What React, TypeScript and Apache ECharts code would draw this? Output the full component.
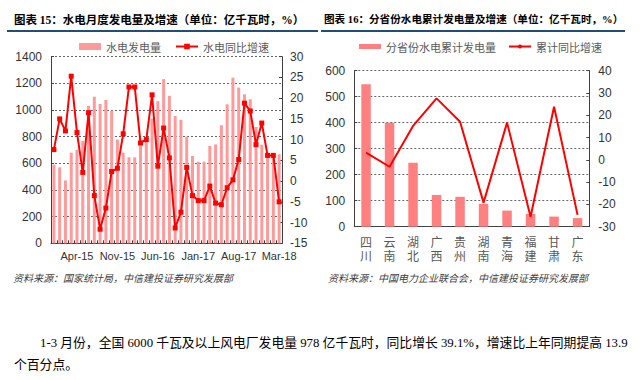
import React, { useEffect, useRef } from "react";
import * as echarts from "echarts";

const months = [
  "Dec-14", "Jan-15", "Feb-15", "Mar-15", "Apr-15", "May-15", "Jun-15", "Jul-15", "Aug-15", "Sep-15",
  "Oct-15", "Nov-15", "Dec-15", "Jan-16", "Feb-16", "Mar-16", "Apr-16", "May-16", "Jun-16", "Jul-16",
  "Aug-16", "Sep-16", "Oct-16", "Nov-16", "Dec-16", "Jan-17", "Feb-17", "Mar-17", "Apr-17", "May-17",
  "Jun-17", "Jul-17", "Aug-17", "Sep-17", "Oct-17", "Nov-17", "Dec-17", "Jan-18", "Feb-18", "Mar-18",
];
const hydroOutput = [
  590, 570, 472, 680, 702, 768, 1031, 1100, 1045, 1075,
  995, 778, 680, 645, 645, 745, 770, 937, 1066, 1232,
  1106, 955, 925, 800, 655, 612, 612, 730, 742, 886,
  1043, 1243, 1168, 1118, 1081, 873, 740, 650, 650, 668,
];
const hydroGrowth = [
  7.6, 15.0, 12.1, 25.3, 11.7, 2.1, 16.5, -3.5, -11.6, -6.5,
  2.3, 3.1, 11.4, 22.7, 22.7, 9.2, 10.0, 20.8, 3.6, 12.8,
  5.6, -11.3, -7.5, 3.3, -3.5, -4.7, -4.7, -1.2, -5.3, -5.7,
  -1.6, 0.3, 5.2, 18.8, 16.9, 8.8, 14.0, 6.2, 6.2, -5.0,
];

const provinces = ["四川", "云南", "湖北", "广西", "贵州", "湖南", "青海", "福建", "甘肃", "广东"];
const provOutput = [548, 400, 246, 122, 115, 88, 62, 49, 39, 33];
const provGrowth = [3.2, -3.1, 15.2, 27.6, 17.1, -19.2, 16.7, -25.5, 23.8, -24.7];

const leftTitle = "图表 15：水电月度发电量及增速（单位：亿千瓦时，%）";
const rightTitle = "图表 16：分省份水电累计发电量及增速（单位：亿千瓦时，%）";
const leftSource = "资料来源：国家统计局，中信建投证券研究发展部";
const rightSource = "资料来源：中国电力企业联合会，中信建投证券研究发展部";
const para1 = "1-3 月份，全国 6000 千瓦及以上风电厂发电量 978 亿千瓦时，同比增长 39.1%，增速比上年同期提高 13.9";
const para2 = "个百分点。";

const NUM = "'Liberation Sans', Arial, sans-serif";
const CJK = "'Noto Sans CJK SC', sans-serif";
const SERIF = "'Liberation Serif', 'Noto Sans CJK SC', serif";

export default function App() {
  const ref = useRef<HTMLDivElement>(null);
  useEffect(() => {
    if (!ref.current) return;
    const chart = echarts.init(ref.current, undefined, { renderer: "svg" });
    const axisLineStyle = { color: "#404040", width: 1 };
    const splitLine = { show: true, lineStyle: { color: "#666", type: [2, 2] as any, width: 1 } };
    const plain = (v: number) => String(v);
    chart.setOption({
      animation: false,
      backgroundColor: "#fff",
      grid: [
        { left: 51, top: 56.7, width: 231, height: 186.6 },
        { left: 354.3, top: 70.7, width: 235, height: 156 },
      ],
      legend: [
        {
          left: 74, top: 36, itemWidth: 22, itemHeight: 7, itemGap: 14,
          textStyle: { fontFamily: CJK, fontSize: 11, color: "#595959" },
          data: [
            { name: "水电发电量", icon: "rect" },
            { name: "水电同比增速" },
          ],
        },
        {
          left: 354, top: 36, itemWidth: 22, itemHeight: 5, itemGap: 12,
          textStyle: { fontFamily: CJK, fontSize: 11, color: "#595959" },
          data: [
            { name: "分省份水电累计发电量", icon: "rect" },
            { name: "累计同比增速" },
          ],
        },
      ],
      xAxis: [
        {
          type: "category", gridIndex: 0, data: months, boundaryGap: true,
          axisLine: { lineStyle: axisLineStyle },
          axisTick: { show: true, inside: true, length: 3, interval: 0, lineStyle: { color: "#404040" } },
          axisLabel: {
            interval: (i: number) => i >= 4 && (i - 4) % 7 === 0,
            fontFamily: NUM, fontSize: 11, color: "#333", margin: 7,
          },
        },
        {
          type: "category", gridIndex: 1, data: provinces, boundaryGap: true,
          axisLine: { lineStyle: axisLineStyle },
          axisTick: { show: false },
          axisLabel: {
            interval: 0, fontFamily: CJK, fontSize: 12, color: "#595959", margin: 8, lineHeight: 14,
            formatter: (v: string) => v.split("").join("\n"),
          },
        },
      ],
      yAxis: [
        {
          type: "value", gridIndex: 0, min: 0, max: 1400, interval: 200,
          axisLine: { show: true, lineStyle: axisLineStyle },
          axisTick: { show: true, inside: true, length: 3, lineStyle: { color: "#404040" } },
          axisLabel: { fontFamily: NUM, fontSize: 12, color: "#333", margin: 9, formatter: plain },
          splitLine,
        },
        {
          type: "value", gridIndex: 0, min: -15, max: 30, interval: 5, position: "right",
          axisLine: { show: true, lineStyle: axisLineStyle },
          axisTick: { show: true, inside: true, length: 3, lineStyle: { color: "#404040" } },
          axisLabel: { fontFamily: NUM, fontSize: 12, color: "#333", margin: 8, formatter: plain },
          splitLine: { show: false },
        },
        {
          type: "value", gridIndex: 1, min: 0, max: 600, interval: 100,
          axisLine: { show: true, lineStyle: axisLineStyle },
          axisTick: { show: true, inside: true, length: 3, lineStyle: { color: "#404040" } },
          axisLabel: { fontFamily: NUM, fontSize: 12, color: "#333", margin: 9, formatter: plain },
          splitLine,
        },
        {
          type: "value", gridIndex: 1, min: -30, max: 40, interval: 10, position: "right",
          axisLine: { show: true, lineStyle: axisLineStyle },
          axisTick: { show: true, inside: true, length: 3, lineStyle: { color: "#404040" } },
          axisLabel: { fontFamily: NUM, fontSize: 12, color: "#333", margin: 9, formatter: plain },
          splitLine: { show: false },
        },
      ],
      series: [
        {
          name: "水电发电量", type: "bar", xAxisIndex: 0, yAxisIndex: 0, data: hydroOutput,
          barWidth: 3, itemStyle: { color: "#FF9A9A" },
        },
        {
          name: "水电同比增速", type: "line", xAxisIndex: 0, yAxisIndex: 1, data: hydroGrowth,
          symbol: "rect", symbolSize: 5, showAllSymbol: true,
          lineStyle: { color: "#FF0000", width: 2 },
          itemStyle: { color: "#FF0000" },
        },
        {
          name: "分省份水电累计发电量", type: "bar", xAxisIndex: 1, yAxisIndex: 2, data: provOutput,
          barWidth: 9.5, itemStyle: { color: "#FF8080" },
        },
        {
          name: "累计同比增速", type: "line", xAxisIndex: 1, yAxisIndex: 3, data: provGrowth,
          symbol: "none", lineStyle: { color: "#FF0000", width: 2 }, itemStyle: { color: "#FF0000" },
        },
      ],
      graphic: [
        {
          type: "text", left: 14, top: 14,
          style: { text: leftTitle, font: `bold 11.5px ${SERIF}`, fill: "#000" },
        },
        {
          type: "text", left: 324, top: 14,
          style: { text: rightTitle, font: `bold 10.6px ${SERIF}`, fill: "#000" },
        },
        { type: "line", shape: { x1: 7, y1: 31, x2: 318, y2: 31 }, style: { stroke: "#1F4E79", lineWidth: 2 } },
        { type: "line", shape: { x1: 321, y1: 31, x2: 625, y2: 31 }, style: { stroke: "#1F4E79", lineWidth: 2 } },
        {
          type: "text", left: 13, top: 272,
          style: { text: leftSource, font: `italic 10px ${CJK}`, fill: "#404040" },
        },
        {
          type: "text", left: 328, top: 272,
          style: { text: rightSource, font: `italic 10px ${CJK}`, fill: "#404040" },
        },
        {
          type: "text", left: 40, top: 337,
          style: { text: para1, font: `12.8px ${SERIF}`, fill: "#000" },
        },
        {
          type: "text", left: 14, top: 359,
          style: { text: para2, font: `12.8px ${SERIF}`, fill: "#000" },
        },
      ],
    });
    return () => chart.dispose();
  }, []);
  return (
    <div style={{ position: "absolute", left: 0, top: 0, width: 640, height: 380, background: "#fff" }}>
      <div ref={ref} style={{ width: 640, height: 380 }} />
    </div>
  );
}
